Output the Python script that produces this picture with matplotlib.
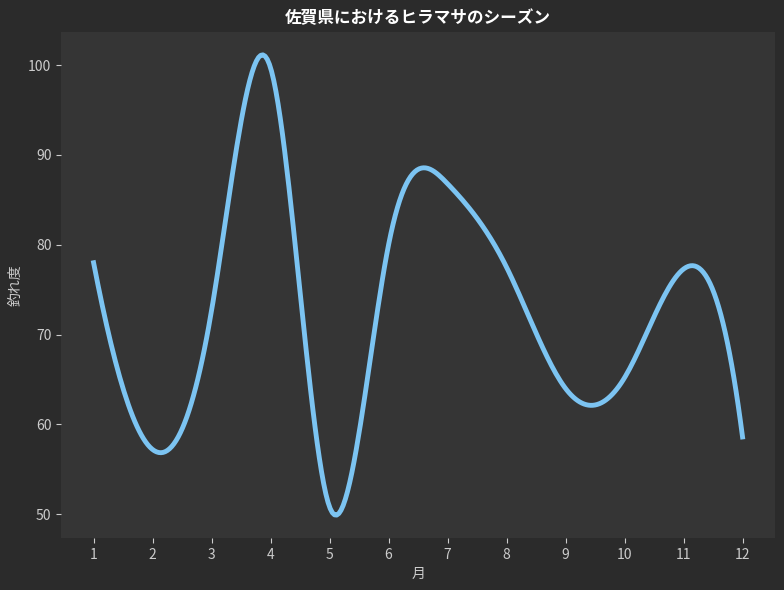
import numpy as np
import matplotlib
matplotlib.use("Agg")
import matplotlib.pyplot as plt

plt.rcParams['font.family'] = ['Noto Sans CJK JP', 'DejaVu Sans']

# 月ごとの釣れ度
months = [1, 2, 3, 4, 5, 6, 7, 8, 9, 10, 11, 12]
scores = [78, 57.2, 72.7, 99.7, 50.8, 80, 86.8, 77.5, 64, 65.2, 77.3, 58.6]


# not-a-knot 3次スプライン (等間隔)
def smooth_curve(x, y, num=300):
    x = np.asarray(x, dtype=float)
    y = np.asarray(y, dtype=float)
    n = len(x)
    h = x[1] - x[0]
    A = np.zeros((n, n))
    b = np.zeros(n)
    A[0, 0], A[0, 1], A[0, 2] = 1, -2, 1
    A[-1, -3], A[-1, -2], A[-1, -1] = 1, -2, 1
    for i in range(1, n - 1):
        A[i, i - 1], A[i, i], A[i, i + 1] = 1, 4, 1
        b[i] = 6 * (y[i - 1] - 2 * y[i] + y[i + 1]) / h ** 2
    M = np.linalg.solve(A, b)
    xs = np.linspace(x[0], x[-1], num)
    idx = np.clip(np.searchsorted(x, xs) - 1, 0, n - 2)
    x0, x1 = x[idx], x[idx + 1]
    ys = (M[idx] * (x1 - xs) ** 3 / (6 * h) + M[idx + 1] * (xs - x0) ** 3 / (6 * h)
          + (y[idx] / h - M[idx] * h / 6) * (x1 - xs)
          + (y[idx + 1] / h - M[idx + 1] * h / 6) * (xs - x0))
    return xs, ys


xs, ys = smooth_curve(months, scores)

fig, ax = plt.subplots(figsize=(7.84, 5.9), dpi=100)
fig.patch.set_facecolor('#2b2b2b')
ax.set_facecolor('#353535')
fig.subplots_adjust(left=0.078, right=0.9885, bottom=0.088, top=0.946)

ax.plot(xs, ys, color='#7cc4f2', linewidth=3.5)

ax.set_xticks(months)
ax.set_title('佐賀県におけるヒラマサのシーズン', color='white', fontsize=12, fontweight='bold')
ax.set_xlabel('月', color='#cccccc', fontsize=10)
ax.set_ylabel('釣れ度', color='#cccccc', fontsize=10)
ax.tick_params(colors='#cccccc', labelsize=10)
for s in ax.spines.values():
    s.set_visible(False)

plt.savefig('out.png', facecolor=fig.get_facecolor())
